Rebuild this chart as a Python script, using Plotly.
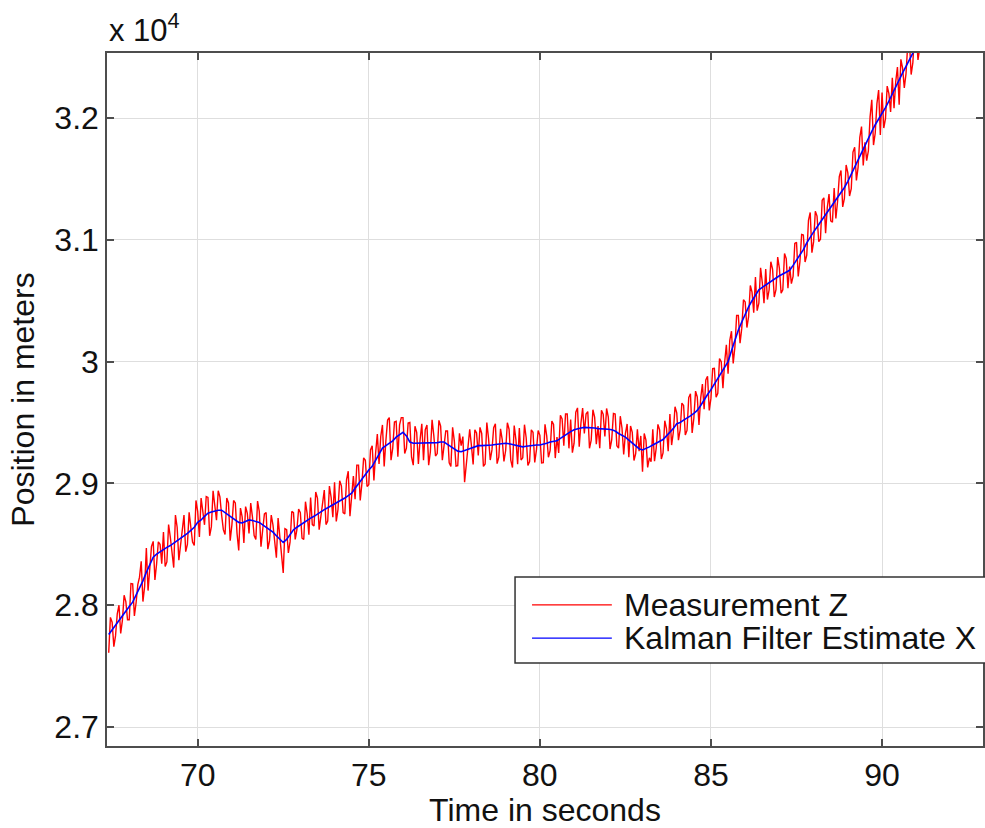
import plotly.graph_objects as go

# ---- data ----
meas_t_start = 67.4
meas_t_step = 0.05
est_t_start = 67.4
est_t_step = 0.1

measurement_z = [
    27610, 27900, 27860, 27660, 27750, 27930, 28000, 27768, 27875, 28082, 28030, 27880,
    27880, 28178, 28175, 27912, 28020, 28170, 28230, 28360, 28030, 28155,
    28470, 28120, 28300, 28482, 28524, 28207, 28340, 28520, 28500, 28340,
    28600, 28318, 28355, 28662, 28560, 28440, 28309, 28740, 28640, 28370,
    28510, 28650, 28740, 28440, 28500, 28762, 28645, 28518, 28490, 28860,
    28770, 28560, 28880, 28775, 28660, 28892, 28885, 28570, 28645, 28940,
    28835, 28698, 28940, 28890, 28740, 28620, 28580, 28880, 28840, 28530,
    28660, 28860, 28840, 28590, 28450, 28798, 28725, 28512, 28810, 28755,
    28590, 28838, 28725, 28572, 28540, 28855, 28770, 28480, 28620, 28750,
    28760, 28460, 28530, 28740, 28660, 28505, 28390, 28715, 28570, 28378,
    28265, 28628, 28620, 28430, 28520, 28770, 28760, 28540, 28620, 28790,
    28760, 28550, 28540, 28850, 28750, 28578, 28885, 28662, 28650, 28930,
    28880, 28620, 28740, 28858, 28945, 28662, 28690, 28978, 28885, 28722,
    29010, 28688, 28785, 29022, 28980, 28760, 28750, 29030, 29100, 28730,
    28940, 29060, 28870, 29150, 29150, 28860, 29000, 29210, 29190, 28975,
    28990, 29275, 29310, 29025, 29250, 29405, 29160, 29385, 29480, 29140,
    29350, 29520, 29540, 29190, 29290, 29505, 29510, 29220, 29480, 29540,
    29540, 29245, 29290, 29495, 29500, 29215, 29150, 29470, 29420, 29160,
    29360, 29490, 29190, 29440, 29480, 29150, 29260, 29522, 29395, 29225,
    29245, 29518, 29470, 29190, 29310, 29430, 29430, 29170, 29140, 29460,
    29350, 29142, 29145, 29412, 29310, 29385, 29010, 29155, 29340, 29445,
    29310, 29155, 29440, 29415, 29230, 29460, 29410, 29140, 29160, 29500,
    29370, 29192, 29275, 29458, 29490, 29162, 29215, 29448, 29360, 29180,
    29270, 29498, 29445, 29192, 29130, 29475, 29360, 29158, 29455, 29192,
    29210, 29482, 29375, 29148, 29180, 29440, 29420, 29172, 29275, 29435,
    29395, 29168, 29170, 29485, 29390, 29215, 29270, 29512, 29485, 29208,
    29380, 29250, 29560, 29530, 29310, 29570, 29570, 29288, 29525, 29252,
    29330, 29585, 29620, 29302, 29495, 29618, 29410, 29570, 29590, 29288,
    29355, 29605, 29545, 29322, 29470, 29290, 29600, 29568, 29385, 29615,
    29545, 29282, 29360, 29575, 29570, 29310, 29290, 29552, 29455, 29238,
    29410, 29488, 29215, 29472, 29420, 29188, 29245, 29445, 29265, 29390,
    29095, 29410, 29355, 29132, 29210, 29178, 29445, 29182, 29290, 29485,
    29440, 29200, 29250, 29515, 29450, 29265, 29570, 29315, 29420, 29630,
    29580, 29355, 29440, 29660, 29640, 29398, 29435, 29705, 29735, 29415,
    29535, 29758, 29710, 29480, 29700, 29815, 29610, 29850, 29880, 29600,
    29700, 29942, 29945, 29708, 29740, 30025, 30000, 29782, 29995, 30138,
    29900, 30175, 30250, 29985, 30120, 30380, 30380, 30152, 30275, 30508,
    30490, 30280, 30370, 30625, 30570, 30402, 30695, 30418, 30480, 30770,
    30650, 30480, 30760, 30510, 30590, 30820, 30760, 30530, 30590, 30858,
    30765, 30562, 30590, 30888, 30845, 30602, 30780, 30640, 30700, 30970,
    30980, 30700, 30820, 31045, 31040, 30818, 30875, 31160, 31225, 30895,
    30985, 31235, 31195, 30985, 31005, 31325, 31345, 31055, 31265, 31375,
    31155, 31145, 31425, 31175, 31315, 31518, 31570, 31270, 31340, 31615,
    31550, 31360, 31420, 31720, 31760, 31488, 31595, 31842, 31930, 31610,
    31800, 31650, 31730, 32010, 32150, 31778, 31875, 32118, 32230, 31860,
    32210, 31918, 31995, 32262, 32200, 32050, 32330, 32080, 32300, 32418,
    32110, 32482, 32410, 32248, 32365, 32602, 32630, 32357, 32454, 32712,
    32690, 32477, 32575, 32822, 32820, 32595, 32810,
]

kalman_x = [
    27760, 27800, 27840, 27880, 27915, 27950,
    27990, 28025, 28080, 28140, 28200, 28270, 28330, 28394, 28420, 28440,
    28460, 28475, 28490, 28509, 28530, 28550, 28570, 28590, 28615, 28640,
    28680, 28700, 28730, 28755, 28765, 28775, 28780, 28780, 28760, 28740,
    28720, 28700, 28680, 28675, 28690, 28700, 28695, 28690, 28680, 28660,
    28640, 28620, 28600, 28570, 28540, 28515, 28540, 28580, 28620, 28640,
    28660, 28680, 28700, 28715, 28730, 28750, 28770, 28785, 28800, 28815,
    28830, 28845, 28860, 28880, 28900, 28920, 28960, 29000, 29040, 29080,
    29110, 29140, 29190, 29240, 29290, 29310, 29330, 29350, 29380, 29400,
    29420, 29390, 29340, 29330, 29330, 29330, 29330, 29330, 29330, 29335,
    29335, 29340, 29340, 29320, 29300, 29280, 29265, 29260, 29270, 29280,
    29290, 29300, 29310, 29310, 29310, 29310, 29315, 29320, 29325, 29330,
    29330, 29325, 29320, 29310, 29305, 29300, 29305, 29310, 29310, 29315,
    29315, 29320, 29330, 29340, 29345, 29350, 29370, 29390, 29410, 29425,
    29440, 29450, 29455, 29460, 29460, 29455, 29455, 29450, 29450, 29445,
    29445, 29440, 29430, 29410, 29395, 29380, 29355, 29330, 29305, 29285,
    29275, 29285, 29300, 29315, 29330, 29340, 29360, 29390, 29420, 29450,
    29490, 29500, 29520, 29535, 29555, 29575, 29600, 29640, 29690, 29730,
    29770, 29815, 29860, 29910, 29955, 30000, 30090, 30180, 30260, 30325,
    30390, 30450, 30500, 30545, 30590, 30610, 30630, 30650, 30670, 30690,
    30705, 30720, 30735, 30750, 30790, 30830, 30870, 30920, 30975, 31025,
    31065, 31105, 31145, 31185, 31225, 31265, 31305, 31345, 31390, 31430,
    31480, 31540, 31600, 31655, 31710, 31770, 31830, 31890, 31945, 31990,
    32030, 32085, 32140, 32200, 32260, 32315, 32370, 32425, 32480, 32534,
    32590, 32645, 32700, 32750,
]

meas_time = [round(meas_t_start + meas_t_step * i, 2) for i in range(len(measurement_z))]
est_time = [round(est_t_start + est_t_step * i, 2) for i in range(len(kalman_x))]

x_ticks = [70, 75, 80, 85, 90]
y_ticks = [27000, 28000, 29000, 30000, 31000, 32000]
y_tick_labels = ["2.7", "2.8", "2.9", "3", "3.1", "3.2"]
series_names = ["Measurement Z", "Kalman Filter Estimate X"]
series_colors = ["#ff0000", "#0000ff"]

FONT = "Liberation Sans, Arial, sans-serif"
FS = 32
TXT = "#111111"

fig = go.Figure()
fig.add_trace(go.Scatter(x=meas_time, y=measurement_z, mode="lines",
                         name=series_names[0], showlegend=False,
                         line=dict(color=series_colors[0], width=1.4)))
fig.add_trace(go.Scatter(x=est_time, y=kalman_x, mode="lines",
                         name=series_names[1], showlegend=False,
                         line=dict(color=series_colors[1], width=1.6)))

axis_common = dict(showline=True, linecolor="#4d4d4d", linewidth=1.5,
                   mirror="ticks", ticks="inside", ticklen=7,
                   tickcolor="#4d4d4d", tickwidth=1.5,
                   showgrid=True, gridcolor="#dedede", gridwidth=1,
                   zeroline=False,
                   tickfont=dict(family=FONT, size=FS, color=TXT))

fig.update_xaxes(range=[67.35, 92.95], tickvals=x_ticks,
                 title=dict(text="Time in seconds", standoff=6,
                            font=dict(family=FONT, size=FS, color=TXT)),
                 **axis_common)
fig.update_yaxes(range=[26844, 32534], tickvals=y_ticks, ticktext=y_tick_labels,
                 title=dict(text="Position in meters", standoff=10,
                            font=dict(family=FONT, size=FS, color=TXT)),
                 **axis_common)

fig.add_annotation(text="x 10<sup>4</sup>", xref="paper", yref="paper",
                   x=0, y=1, xanchor="left", yanchor="bottom", yshift=3,
                   showarrow=False,
                   font=dict(family=FONT, size=31, color=TXT))

# ---- MATLAB-style legend box (drawn with shapes + text) ----
leg_x0, leg_x1 = 0.4658, 1.01
leg_y0, leg_y1 = 0.1198, 0.2439
line_x0, line_x1 = 0.4852, 0.5763
text_x = 0.5877
row_y = [0.2035, 0.1558]

fig.add_shape(type="rect", xref="paper", yref="paper",
              x0=leg_x0, x1=leg_x1, y0=leg_y0, y1=leg_y1,
              fillcolor="white", line=dict(color="#333333", width=1.5),
              layer="above")
for name, color, yy in zip(series_names, series_colors, row_y):
    fig.add_shape(type="line", xref="paper", yref="paper",
                  x0=line_x0, x1=line_x1, y0=yy, y1=yy,
                  line=dict(color=color, width=1.3), layer="above")
    fig.add_annotation(text=name, xref="paper", yref="paper",
                       x=text_x, y=yy, xanchor="left", yanchor="middle",
                       showarrow=False,
                       font=dict(family=FONT, size=FS, color=TXT))

fig.update_layout(
    width=985, height=828,
    margin=dict(l=107, r=0, t=53, b=82),
    paper_bgcolor="white", plot_bgcolor="white",
    showlegend=False,
)

fig.write_html("out.html")
